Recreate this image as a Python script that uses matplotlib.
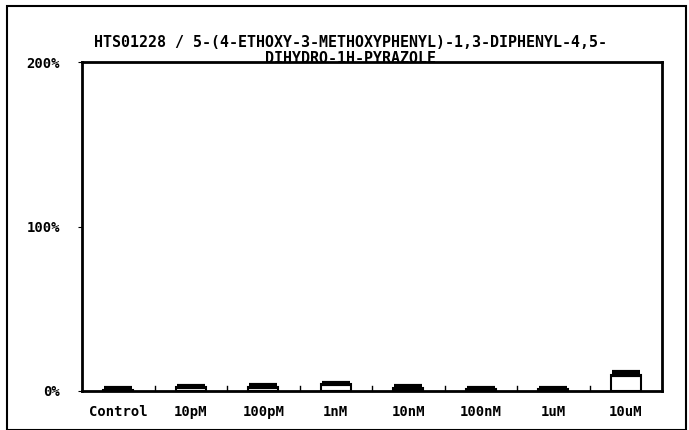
import numpy as np
import matplotlib.pyplot as plt
from matplotlib.patches import Rectangle

# Daten (aus dem Bild geschaetzt)
categories = ['Control', '10pM', '100pM', '1nM', '10nM', '100nM', '1uM', '10uM']
values = [0.5, 2.5, 2.5, 4.0, 2.0, 1.0, 1.0, 10.0]
errors = [1.5, 0.8, 1.0, 1.0, 1.0, 0.6, 0.6, 1.8]
yticks = [0, 100, 200]
ytick_labels = ['0%', '100%', '200%']
title = 'HTS01228 / 5-(4-ETHOXY-3-METHOXYPHENYL)-1,3-DIPHENYL-4,5-\nDIHYDRO-1H-PYRAZOLE'

W, H = 689, 430
fig = plt.figure(figsize=(W / 100, H / 100), dpi=100)
fig.patch.set_facecolor('white')

# aeusserer Rahmen
fig.add_artist(Rectangle((7 / W, 0), 679 / W, 1 - 6 / H, transform=fig.transFigure,
                         fill=False, edgecolor='black', linewidth=1.5))

ax = fig.add_axes([82 / W, 1 - 391 / H, 580 / W, 329 / H])
x = np.arange(len(categories))
ax.bar(x, values, width=0.42, color='white', edgecolor='black', linewidth=1.5, zorder=2)
ax.errorbar(x, values, yerr=[np.zeros(len(errors)), errors], fmt='none',
            ecolor='black', elinewidth=1.5, capsize=10, capthick=3, zorder=3)

ax.set_xlim(-0.5, len(categories) - 0.5)
ax.set_ylim(0, 200)
ax.set_yticks(yticks)
ax.set_yticklabels(ytick_labels)
ax.set_xticks(x)
ax.set_xticklabels(categories)
ax.tick_params(axis='x', length=0, pad=10)
ax.tick_params(axis='y', length=3, pad=13)

# kleine Teilstriche zwischen den Kategorien
for b in np.arange(0.5, len(categories) - 0.5, 1):
    ax.plot([b, b], [0, 3], color='black', linewidth=1, zorder=1)

for sp in ax.spines.values():
    sp.set_linewidth(2)

font = dict(family='DejaVu Sans Mono', fontweight='bold')
for lbl in ax.get_xticklabels() + ax.get_yticklabels():
    lbl.set_fontfamily('DejaVu Sans Mono')
    lbl.set_fontweight('bold')
    lbl.set_fontsize(10)

fig.text(351 / W, 1 - 35 / H, title, ha='center', va='top', fontsize=10.8,
         linespacing=1.05, **font)

fig.savefig('out.png', dpi=100)
